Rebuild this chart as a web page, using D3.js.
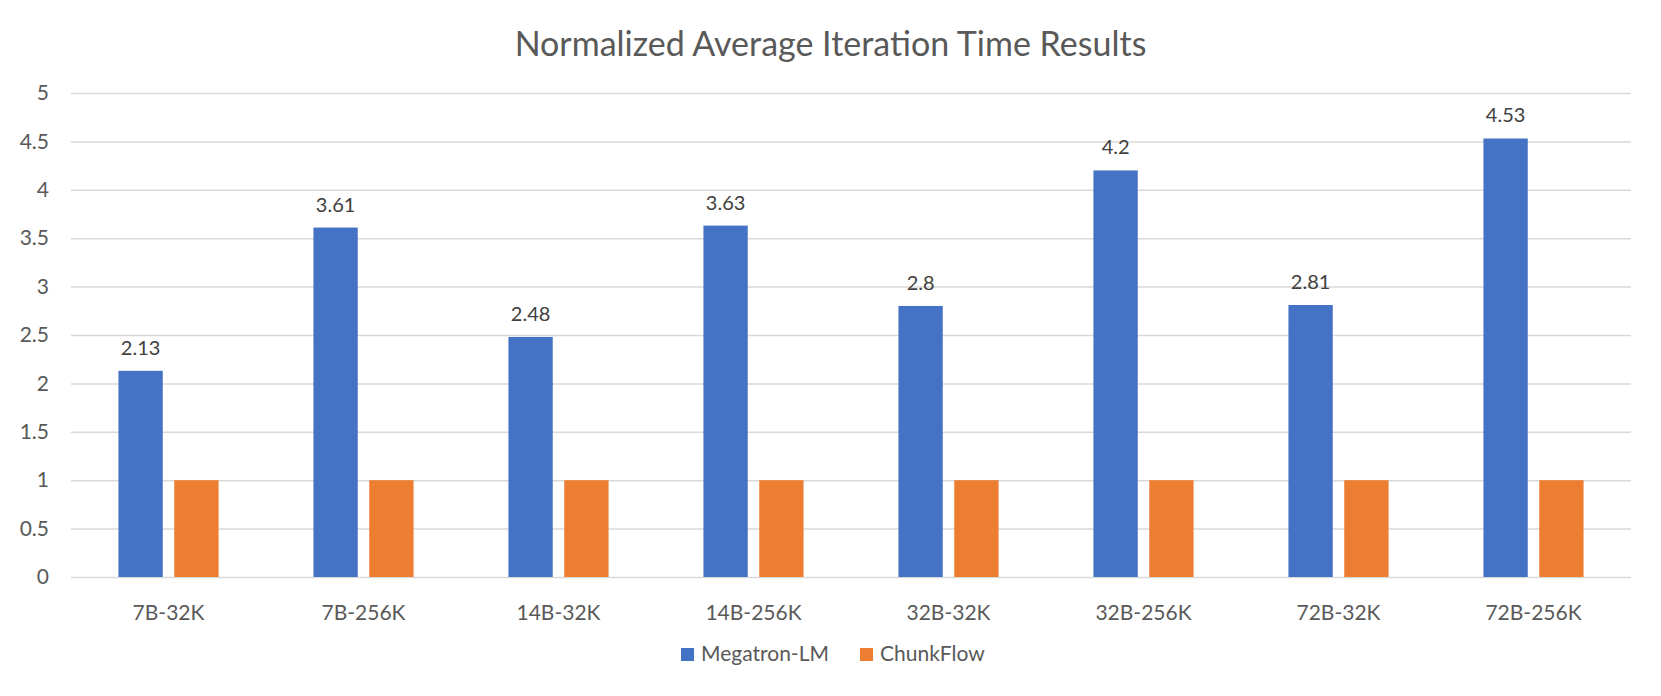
<!DOCTYPE html>
<html>
<head>
<meta charset="utf-8">
<script src="https://cdn.jsdelivr.net/npm/d3@7"></script>
<style>
  body { margin: 0; background: #fff; }
  text { font-family: Lato, "Open Sans", sans-serif; }
</style>
</head>
<body>
<div id="chart"></div>
<script>
// data
const categories = ["7B-32K", "7B-256K", "14B-32K", "14B-256K", "32B-32K", "32B-256K", "72B-32K", "72B-256K"];
const seriesNames = ["Megatron-LM", "ChunkFlow"];
const megatron = [2.13, 3.61, 2.48, 3.63, 2.8, 4.2, 2.81, 4.53];
const chunkflow = [1, 1, 1, 1, 1, 1, 1, 1];
const yTicks = [0, 0.5, 1, 1.5, 2, 2.5, 3, 3.5, 4, 4.5, 5];

const colors = ["#4472C4", "#ED7D31"];

const width = 1661;
const height = 696;
const margin = {top: 93, right: 30, bottom: 119, left: 71};

const svg = d3.select("#chart")
    .append("svg")
    .attr("width", width)
    .attr("height", height);

// title
svg.append("text")
    .attr("x", width / 2)
    .attr("y", 56)
    .attr("text-anchor", "middle")
    .attr("fill", "#595959")
    .style("font-size", "34px")
    .text("Normalized Average Iteration Time Results");

const x0 = d3.scaleBand()
    .domain(categories)
    .range([margin.left, width - margin.right])
    .padding(0);

const x1 = d3.scaleBand()
    .domain(seriesNames)
    .range([0, x0.bandwidth()])
    .paddingInner(0.206)
    .paddingOuter(0.85);

const y = d3.scaleLinear()
    .domain([0, 5])
    .range([height - margin.bottom, margin.top]);

// gridlines + y labels
const yAxis = d3.axisLeft(y)
    .tickValues(yTicks)
    .tickSize(-(width - margin.left - margin.right))
    .tickPadding(22)
    .tickFormat(d3.format("~g"));

const gy = svg.append("g")
    .attr("transform", `translate(${margin.left},0)`)
    .call(yAxis);
gy.select(".domain").remove();
gy.selectAll(".tick line").attr("stroke", "#D9D9D9").attr("stroke-width", 1.5);
gy.selectAll(".tick text")
    .attr("fill", "#595959")
    .style("font-size", "21px")
    .style("font-family", "Lato, sans-serif");

// bars
const rows = categories.map((c, i) => ({cat: c, values: [megatron[i], chunkflow[i]]}));

const groups = svg.append("g")
    .selectAll("g")
    .data(rows)
    .join("g")
    .attr("transform", d => `translate(${x0(d.cat)},0)`);

groups.selectAll("rect")
    .data(d => d.values.map((v, k) => ({name: seriesNames[k], value: v, k: k})))
    .join("rect")
    .attr("x", d => x1(d.name))
    .attr("y", d => y(d.value))
    .attr("width", x1.bandwidth())
    .attr("height", d => y(0) - y(d.value))
    .attr("fill", d => colors[d.k]);

// data labels on megatron bars only
groups.append("text")
    .attr("x", x1("Megatron-LM") + x1.bandwidth() / 2)
    .attr("y", d => y(d.values[0]) - 16)
    .attr("text-anchor", "middle")
    .attr("fill", "#404040")
    .style("font-size", "20px")
    .text(d => d.values[0]);

// x axis labels
const xAxis = d3.axisBottom(x0).tickSize(0).tickPadding(28);
const gx = svg.append("g")
    .attr("transform", `translate(0,${height - margin.bottom})`)
    .call(xAxis);
gx.select(".domain").remove();
gx.selectAll(".tick text")
    .attr("fill", "#595959")
    .style("font-size", "21px")
    .style("font-family", "Lato, sans-serif");

// legend
const legendItems = [
    {name: seriesNames[0], color: colors[0], x: 681},
    {name: seriesNames[1], color: colors[1], x: 860}
];
const legend = svg.append("g");
legend.selectAll("rect")
    .data(legendItems)
    .join("rect")
    .attr("x", d => d.x)
    .attr("y", 648)
    .attr("width", 13)
    .attr("height", 13)
    .attr("fill", d => d.color);
legend.selectAll("text")
    .data(legendItems)
    .join("text")
    .attr("x", d => d.x + 20)
    .attr("y", 661)
    .attr("fill", "#595959")
    .style("font-size", "21px")
    .text(d => d.name);
</script>
</body>
</html>
